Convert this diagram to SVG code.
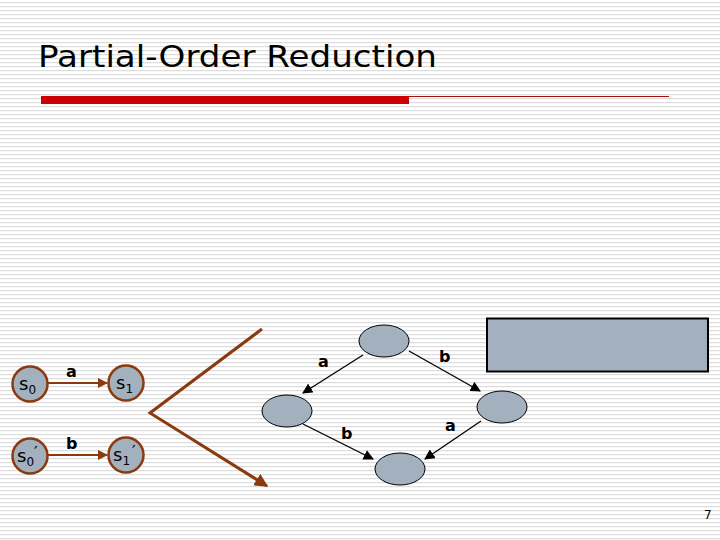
<svg xmlns="http://www.w3.org/2000/svg" width="720" height="540" viewBox="0 0 720 540">
<defs>
<pattern id="stripes" width="8" height="4" patternUnits="userSpaceOnUse">
<rect width="8" height="4" fill="#ffffff"/>
<rect y="2" width="8" height="1.2" fill="#dcdcdc"/>
</pattern>
<marker id="brownHead" viewBox="0 0 10 10" refX="9" refY="5" markerWidth="4.5" markerHeight="4.5" orient="auto" markerUnits="strokeWidth">
<path d="M0,0 L10,5 L0,10 z" fill="#8b3a10"/>
</marker>
<marker id="smallBrown" viewBox="0 0 10 10" refX="9" refY="5" markerWidth="5" markerHeight="5" orient="auto" markerUnits="strokeWidth">
<path d="M0,0 L10,5 L0,10 z" fill="#8b3a10"/>
</marker>
<marker id="blackHead" viewBox="0 0 10 10" refX="9" refY="5" markerWidth="8" markerHeight="8" orient="auto" markerUnits="strokeWidth">
<path d="M0,0 L10,5 L0,10 z" fill="#000"/>
</marker>
</defs>
<style>
.state{fill:#a3b1bf;stroke:#8b3a10;stroke-width:2.5}
.dstate{fill:#a3b1bf;stroke:#000;stroke-width:1}
.lbl{font-family:"DejaVu Sans",Verdana,sans-serif;font-weight:bold;font-size:16px;fill:#000}
.st{font-family:"DejaVu Sans",Verdana,sans-serif;font-size:18px;fill:#000}
.sub{font-size:12px}
.pr{font-size:16px}
.bedge{stroke:#8b3a10;stroke-width:2;fill:none}
.kedge{stroke:#000;stroke-width:1.3;fill:none}
</style>
<rect width="720" height="540" fill="url(#stripes)"/>
<g id="title">
<text x="38" y="67" font-family="DejaVu Sans, Verdana, sans-serif" font-size="31" fill="#000" textLength="399" lengthAdjust="spacingAndGlyphs">Partial-Order Reduction</text>
<rect x="41" y="96" width="368" height="8" fill="#cc0000"/>
<line x1="409" y1="96.5" x2="669" y2="96.5" stroke="#a01010" stroke-width="1"/>
</g>
<g id="connectors">
<line class="bedge" x1="48" y1="383" x2="107" y2="383" marker-end="url(#smallBrown)"/>
<line class="bedge" x1="48" y1="455" x2="107" y2="455" marker-end="url(#smallBrown)"/>
<polyline points="262,329 150,413 267,486" stroke="#8b3a10" stroke-width="3" fill="none" marker-end="url(#brownHead)"/>
<line class="kedge" x1="363" y1="355" x2="303" y2="393" marker-end="url(#blackHead)"/>
<line class="kedge" x1="409" y1="351" x2="480" y2="391" marker-end="url(#blackHead)"/>
<line class="kedge" x1="303" y1="424" x2="373" y2="459" marker-end="url(#blackHead)"/>
<line class="kedge" x1="481" y1="421" x2="425" y2="459" marker-end="url(#blackHead)"/>
<text class="lbl" x="66" y="377">a</text>
<text class="lbl" x="66" y="449">b</text>
<text class="lbl" x="318" y="367">a</text>
<text class="lbl" x="439" y="362">b</text>
<text class="lbl" x="341" y="439">b</text>
<text class="lbl" x="445" y="431">a</text>
</g>
<g id="s0">
<circle class="state" cx="30" cy="384" r="17.5"/>
<text class="st" x="19" y="390">s<tspan class="sub" dy="4">0</tspan></text>
</g>
<g id="s1">
<circle class="state" cx="126" cy="383" r="17.5"/>
<text class="st" x="116" y="389">s<tspan class="sub" dy="4">1</tspan></text>
</g>
<g id="s0p">
<circle class="state" cx="30" cy="456" r="17.5"/>
<text class="st" x="17" y="462">s<tspan class="sub" dy="4">0</tspan><tspan class="pr" dy="-8">′</tspan></text>
</g>
<g id="s1p">
<circle class="state" cx="126" cy="455" r="17.5"/>
<text class="st" x="113" y="461">s<tspan class="sub" dy="4">1</tspan><tspan class="pr" dx="2" dy="-8">′</tspan></text>
</g>
<g id="top">
<ellipse class="dstate" cx="384" cy="341" rx="25" ry="16"/>
</g>
<g id="left">
<ellipse class="dstate" cx="287" cy="411" rx="25" ry="16"/>
</g>
<g id="right">
<ellipse class="dstate" cx="502" cy="407" rx="25" ry="16"/>
</g>
<g id="bottom">
<ellipse class="dstate" cx="400" cy="469" rx="25" ry="16"/>
</g>
<g id="box">
<rect x="487" y="318.5" width="221" height="53" fill="#a3b1bf" stroke="#000" stroke-width="2"/>
</g>
<g id="pagenum">
<text x="704" y="519" font-family="DejaVu Sans, Verdana, sans-serif" font-size="12" fill="#000">7</text>
</g>
</svg>
